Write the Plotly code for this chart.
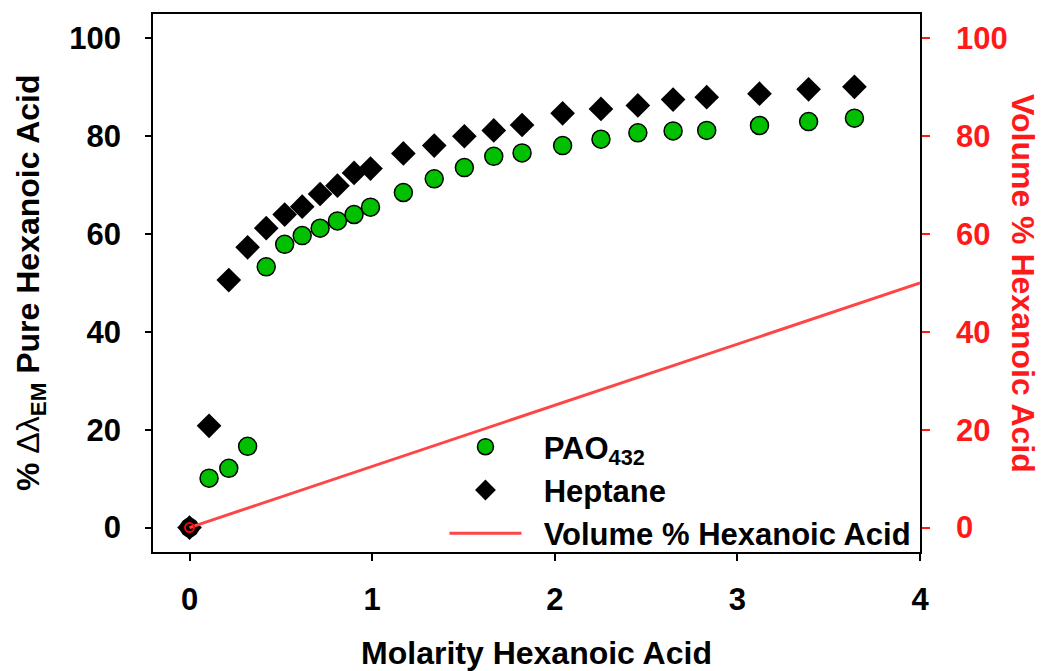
import plotly.graph_objects as go

# Molarity of hexanoic acid (M)
molarity = [0, 0.107, 0.215, 0.318, 0.42, 0.521, 0.617, 0.715, 0.81, 0.901, 0.991,
            1.171, 1.34, 1.505, 1.666, 1.821, 2.043, 2.253, 2.455, 2.648, 2.832,
            3.121, 3.39, 3.641]

# % shift of emission wavelength relative to pure hexanoic acid
pao432 = [0, 10.1, 12.1, 16.6, 53.3, 57.9, 59.7, 61.2, 62.7, 64.0, 65.5,
          68.5, 71.3, 73.6, 75.9, 76.6, 78.1, 79.4, 80.7, 81.1, 81.2,
          82.2, 83.0, 83.7]
heptane = [0, 20.8, 50.6, 57.3, 61.2, 64.0, 65.6, 68.2, 69.9, 72.5, 73.4,
           76.5, 78.1, 80.0, 81.2, 82.3, 84.7, 85.6, 86.3, 87.5, 88.0,
           88.7, 89.6, 90.1]

# Volume % hexanoic acid (right axis)
vol_molarity = [0, 4]
vol_percent = [0, 50]

y_ticks = [0, 20, 40, 60, 80, 100]
x_ticks = [0, 1, 2, 3, 4]

FONT = "Liberation Sans, Arial, sans-serif"
RED = "#ff1a1a"
LINE_RED = "#ff4646"
TICK_SIZE = 31
TITLE_SIZE = 32
LEGEND_SIZE = 31
GAP = "\u00a0\u00a0"

PLOT_L, PLOT_R = 153, 920
PLOT_W = PLOT_R - PLOT_L

fig = go.Figure()

fig.add_trace(go.Scatter(
    x=molarity, y=pao432, mode="markers", name=GAP + "PAO<sub>432</sub>",
    marker=dict(symbol="circle", size=18, color="#00c000",
                line=dict(color="black", width=1.5)),
))
fig.add_trace(go.Scatter(
    x=molarity, y=heptane, mode="markers", name=GAP + "Heptane",
    marker=dict(symbol="diamond", size=19, color="black",
                line=dict(color="black", width=0)),
))
fig.add_trace(go.Scatter(
    x=vol_molarity, y=vol_percent, mode="lines", yaxis="y2",
    name=GAP + "Volume % Hexanoic Acid",
    line=dict(color=LINE_RED, width=3),
))
# open red marker at the start of the volume line
fig.add_trace(go.Scatter(
    x=vol_molarity[:1], y=vol_percent[:1], mode="markers", yaxis="y2",
    showlegend=False, hoverinfo="skip",
    marker=dict(symbol="circle-open", size=9, color="#ff0000",
                line=dict(width=2, color="#ff0000")),
))

fig.update_layout(
    width=1047, height=671, autosize=False,
    margin=dict(l=PLOT_L, r=1047 - PLOT_R, t=14, b=119),
    paper_bgcolor="white", plot_bgcolor="white",
    font=dict(family=FONT, size=TICK_SIZE, color="black", weight="bold"),
    showlegend=True,
    legend=dict(
        x=0.38, y=-0.015, xanchor="left", yanchor="bottom",
        bgcolor="rgba(0,0,0,0)", borderwidth=0,
        font=dict(family=FONT, size=LEGEND_SIZE, color="black", weight="bold"),
        itemwidth=72, tracegroupgap=0,
    ),
    xaxis=dict(
        range=[-0.2, 4.0], tickvals=x_ticks, ticktext=[str(v) for v in x_ticks],
        ticks="outside", ticklen=7, tickwidth=1.5, tickcolor="black",
        ticklabelstandoff=12, automargin=False,
        showline=True, linecolor="black", linewidth=1.5, mirror=True,
        showgrid=False, zeroline=False,
        tickfont=dict(family=FONT, size=TICK_SIZE, color="black", weight="bold"),
        title=dict(text="Molarity Hexanoic Acid", standoff=33,
                   font=dict(family=FONT, size=TITLE_SIZE, color="black", weight="bold")),
    ),
    yaxis=dict(
        range=[-5, 105], tickvals=y_ticks,
        ticks="outside", ticklen=6, tickwidth=1.5, tickcolor="black",
        ticklabelstandoff=18, automargin=False,
        showline=True, linecolor="black", linewidth=1.5,
        showgrid=False, zeroline=False,
        tickfont=dict(family=FONT, size=TICK_SIZE, color="black", weight="bold"),
    ),
    yaxis2=dict(
        range=[-5, 105], tickvals=y_ticks, overlaying="y", side="right",
        ticks="outside", ticklen=8, tickwidth=1.5, tickcolor=RED,
        ticklabelstandoff=20, automargin=False,
        showline=True, linecolor="black", linewidth=1.5,
        showgrid=False, zeroline=False,
        tickfont=dict(family=FONT, size=TICK_SIZE, color=RED, weight="bold"),
    ),
    annotations=[
        dict(
            text="% <span style='font-weight:normal'>Δλ</span><sub>EM</sub> Pure Hexanoic Acid",
            textangle=-90, xref="paper", yref="paper",
            x=(30 - PLOT_L) / PLOT_W, y=0.5,
            xanchor="center", yanchor="middle", showarrow=False,
            font=dict(family=FONT, size=TITLE_SIZE, color="black", weight="bold"),
        ),
        dict(
            text="Volume % Hexanoic Acid", textangle=90,
            xref="paper", yref="paper", x=(1023 - PLOT_L) / PLOT_W, y=0.5,
            xanchor="center", yanchor="middle", showarrow=False,
            font=dict(family=FONT, size=TITLE_SIZE, color=RED, weight="bold"),
        ),
    ],
)

fig.write_html("out.html")
